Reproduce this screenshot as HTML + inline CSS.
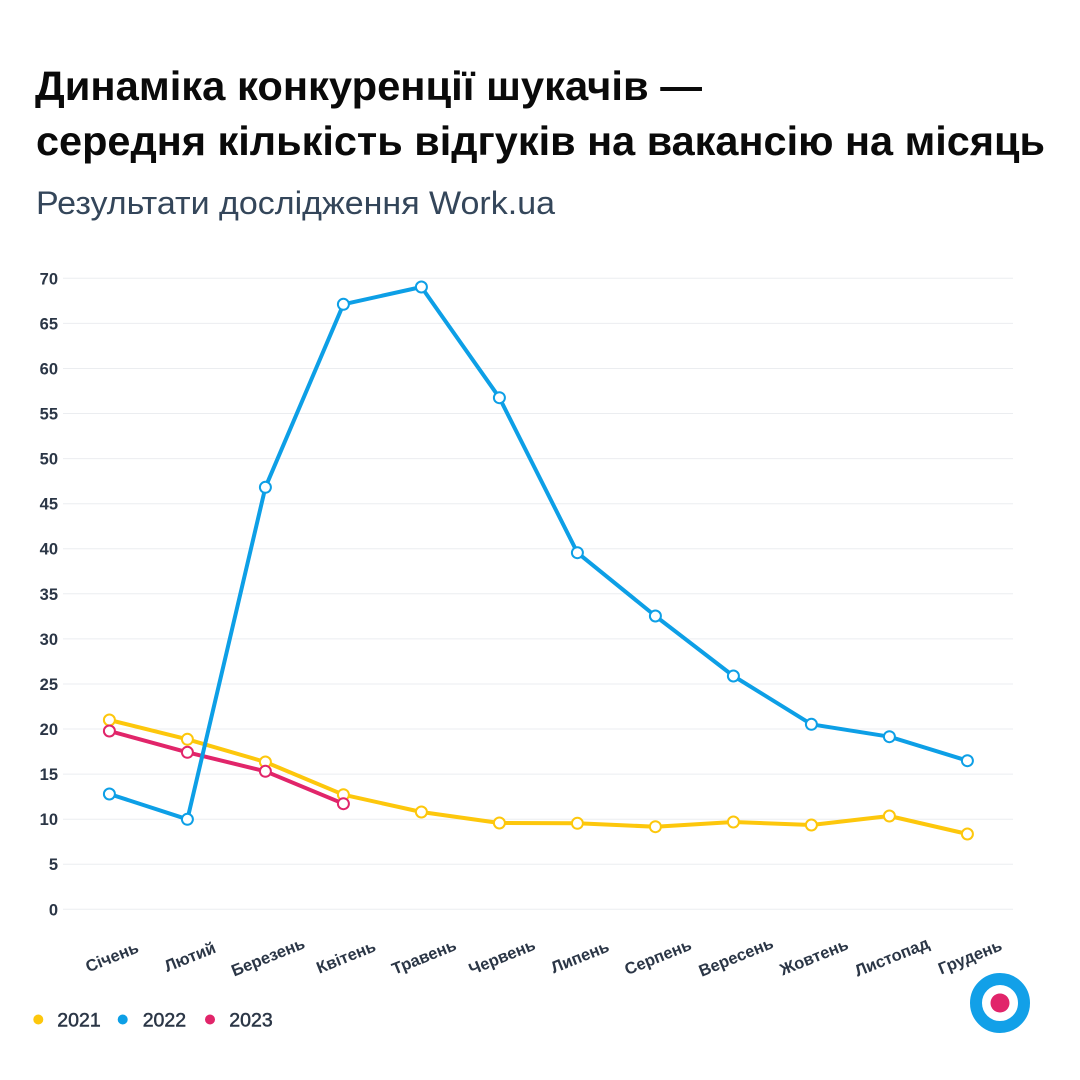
<!DOCTYPE html>
<html>
<head>
<meta charset="utf-8">
<style>
  html, body { margin:0; padding:0; background:#ffffff; }
  body { width:1080px; height:1080px; overflow:hidden; }
  svg { display:block; }
  .t { font-family:"Liberation Sans","Noto Sans CJK SC",sans-serif; }
</style>
</head>
<body>
<svg width="1080" height="1080" viewBox="0 0 1080 1080" xmlns="http://www.w3.org/2000/svg">
  <rect width="1080" height="1080" fill="#ffffff"/>

  <!-- Title -->
  <text class="t" x="35" y="100" font-size="41" font-weight="bold" fill="#0a0a0a" textLength="667" lengthAdjust="spacingAndGlyphs">Динаміка конкуренції шукачів —</text>
  <text class="t" x="36" y="155" font-size="41" font-weight="bold" fill="#0a0a0a" textLength="1009" lengthAdjust="spacingAndGlyphs">середня кількість відгуків на вакансію на місяць</text>
  <text class="t" x="36" y="214" font-size="32" fill="#34465a" textLength="519" lengthAdjust="spacingAndGlyphs">Результати дослідження Work.ua</text>

  <!-- Gridlines -->
  <g stroke="#ebedf0" stroke-width="1">
    <line x1="63" x2="1013" y1="909.3" y2="909.3"/>
    <line x1="63" x2="1013" y1="864.2" y2="864.2"/>
    <line x1="63" x2="1013" y1="819.2" y2="819.2"/>
    <line x1="63" x2="1013" y1="774.1" y2="774.1"/>
    <line x1="63" x2="1013" y1="729.0" y2="729.0"/>
    <line x1="63" x2="1013" y1="684.0" y2="684.0"/>
    <line x1="63" x2="1013" y1="638.9" y2="638.9"/>
    <line x1="63" x2="1013" y1="593.8" y2="593.8"/>
    <line x1="63" x2="1013" y1="548.7" y2="548.7"/>
    <line x1="63" x2="1013" y1="503.7" y2="503.7"/>
    <line x1="63" x2="1013" y1="458.6" y2="458.6"/>
    <line x1="63" x2="1013" y1="413.5" y2="413.5"/>
    <line x1="63" x2="1013" y1="368.5" y2="368.5"/>
    <line x1="63" x2="1013" y1="323.4" y2="323.4"/>
    <line x1="63" x2="1013" y1="278.3" y2="278.3"/>
  </g>

  <!-- Y labels -->
  <g class="t" font-size="16.5" font-weight="bold" fill="#2b3646" text-anchor="end">
    <text x="58" y="915.3">0</text>
    <text x="58" y="870.2">5</text>
    <text x="58" y="825.2">10</text>
    <text x="58" y="780.1">15</text>
    <text x="58" y="735.0">20</text>
    <text x="58" y="690.0">25</text>
    <text x="58" y="644.9">30</text>
    <text x="58" y="599.8">35</text>
    <text x="58" y="554.7">40</text>
    <text x="58" y="509.7">45</text>
    <text x="58" y="464.6">50</text>
    <text x="58" y="419.5">55</text>
    <text x="58" y="374.5">60</text>
    <text x="58" y="329.4">65</text>
    <text x="58" y="284.3">70</text>
  </g>

  <!-- X labels -->
  <g class="t" font-size="16.5" font-weight="bold" fill="#2b3646" text-anchor="middle">
    <text transform="translate(112,957) rotate(-22)" y="5.5">Січень</text>
    <text transform="translate(190,957) rotate(-22)" y="5.5">Лютий</text>
    <text transform="translate(268,957) rotate(-22)" y="5.5">Березень</text>
    <text transform="translate(346,957) rotate(-22)" y="5.5">Квітень</text>
    <text transform="translate(424,957) rotate(-22)" y="5.5">Травень</text>
    <text transform="translate(502,957) rotate(-22)" y="5.5">Червень</text>
    <text transform="translate(580,957) rotate(-22)" y="5.5">Липень</text>
    <text transform="translate(658,957) rotate(-22)" y="5.5">Серпень</text>
    <text transform="translate(736,957) rotate(-22)" y="5.5">Вересень</text>
    <text transform="translate(814,957) rotate(-22)" y="5.5">Жовтень</text>
    <text transform="translate(892,957) rotate(-22)" y="5.5">Листопад</text>
    <text transform="translate(970,957) rotate(-22)" y="5.5">Грудень</text>
  </g>

  <!-- 2021 -->
  <g>
    <polyline fill="none" stroke="#fdc70c" stroke-width="4" stroke-linejoin="round" stroke-linecap="round"
      points="109.4,720 187.4,739.3 265.4,762 343.4,794.7 421.4,812 499.4,823 577.4,823.3 655.4,826.7 733.4,822 811.4,825 889.4,816 967.4,834"/>
    <g fill="#ffffff" stroke="#fdc70c" stroke-width="2">
      <circle cx="109.4" cy="720" r="5.5"/>
      <circle cx="187.4" cy="739.3" r="5.5"/>
      <circle cx="265.4" cy="762" r="5.5"/>
      <circle cx="343.4" cy="794.7" r="5.5"/>
      <circle cx="421.4" cy="812" r="5.5"/>
      <circle cx="499.4" cy="823" r="5.5"/>
      <circle cx="577.4" cy="823.3" r="5.5"/>
      <circle cx="655.4" cy="826.7" r="5.5"/>
      <circle cx="733.4" cy="822" r="5.5"/>
      <circle cx="811.4" cy="825" r="5.5"/>
      <circle cx="889.4" cy="816" r="5.5"/>
      <circle cx="967.4" cy="834" r="5.5"/>
    </g>
  </g>

  <!-- 2023 -->
  <g>
    <polyline fill="none" stroke="#e1256a" stroke-width="4" stroke-linejoin="round" stroke-linecap="round"
      points="109.4,731 187.4,752.3 265.4,771.3 343.4,803.7"/>
    <g fill="#ffffff" stroke="#e1256a" stroke-width="2">
      <circle cx="109.4" cy="731" r="5.5"/>
      <circle cx="187.4" cy="752.3" r="5.5"/>
      <circle cx="265.4" cy="771.3" r="5.5"/>
      <circle cx="343.4" cy="803.7" r="5.5"/>
    </g>
  </g>

  <!-- 2022 -->
  <g>
    <polyline fill="none" stroke="#0d9fe6" stroke-width="4" stroke-linejoin="round" stroke-linecap="round"
      points="109.4,794 187.4,819.3 265.4,487.3 343.4,304.3 421.4,287 499.4,397.7 577.4,552.7 655.4,616 733.4,676 811.4,724.3 889.4,736.7 967.4,760.7"/>
    <g fill="#ffffff" stroke="#0d9fe6" stroke-width="2">
      <circle cx="109.4" cy="794" r="5.5"/>
      <circle cx="187.4" cy="819.3" r="5.5"/>
      <circle cx="265.4" cy="487.3" r="5.5"/>
      <circle cx="343.4" cy="304.3" r="5.5"/>
      <circle cx="421.4" cy="287" r="5.5"/>
      <circle cx="499.4" cy="397.7" r="5.5"/>
      <circle cx="577.4" cy="552.7" r="5.5"/>
      <circle cx="655.4" cy="616" r="5.5"/>
      <circle cx="733.4" cy="676" r="5.5"/>
      <circle cx="811.4" cy="724.3" r="5.5"/>
      <circle cx="889.4" cy="736.7" r="5.5"/>
      <circle cx="967.4" cy="760.7" r="5.5"/>
    </g>
  </g>

  <!-- Legend -->
  <circle cx="38.3" cy="1019.5" r="5" fill="#fdc70c"/>
  <circle cx="122.7" cy="1019.5" r="5" fill="#0d9fe6"/>
  <circle cx="210" cy="1019.5" r="5" fill="#e1256a"/>
  <g class="t" font-size="19.5" fill="#2b3646" stroke="#2b3646" stroke-width="0.5">
    <text x="57.3" y="1026.5">2021</text>
    <text x="142.7" y="1026.5">2022</text>
    <text x="229.3" y="1026.5">2023</text>
  </g>

  <!-- Logo -->
  <circle cx="1000" cy="1003" r="24" fill="#ffffff" stroke="#12a0e8" stroke-width="12"/>
  <circle cx="1000" cy="1003" r="9.5" fill="#e1256a"/>
</svg>
</body>
</html>
